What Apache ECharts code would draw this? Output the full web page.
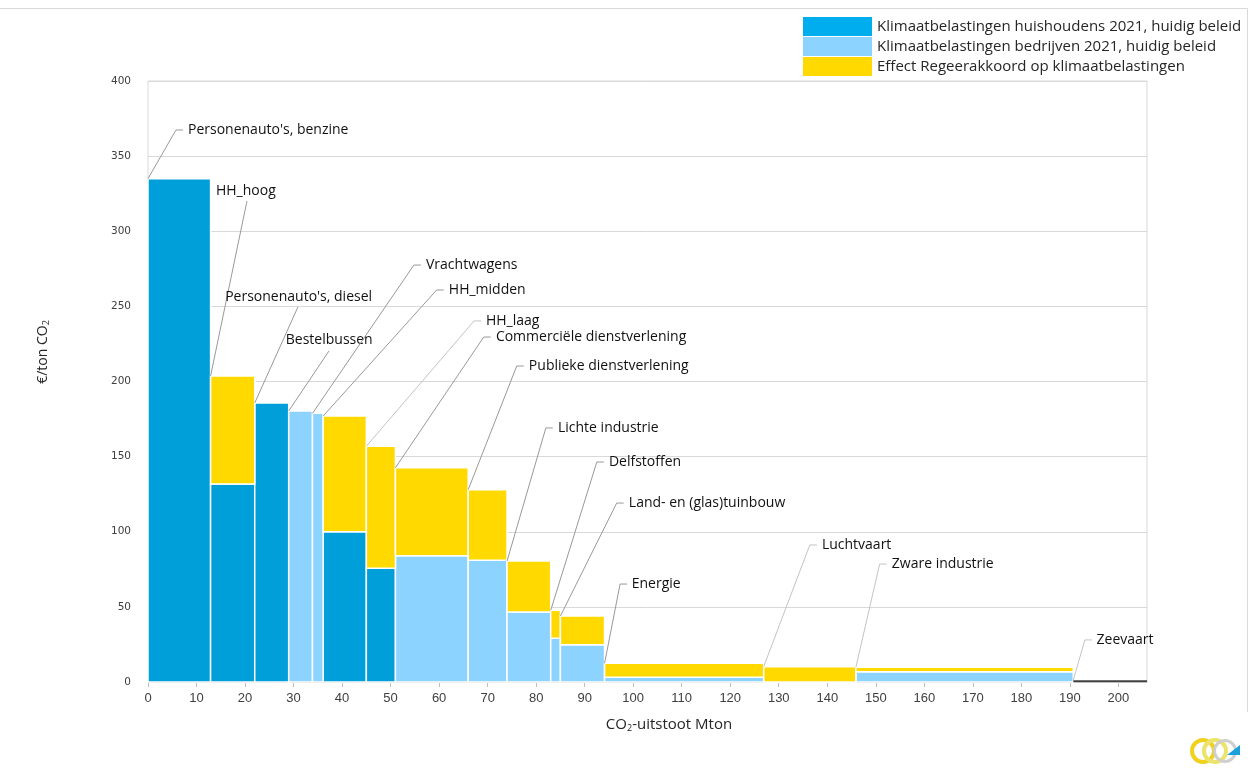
<!DOCTYPE html>
<html>
<head>
<meta charset="utf-8">
<script src="https://cdn.jsdelivr.net/npm/echarts@6/dist/echarts.min.js"></script>
<style>
html,body{margin:0;padding:0;background:#fff;}
#chart{width:1254px;height:781px;}
</style>
</head>
<body>
<div id="chart"></div>
<script>
// ---------- data ----------
const sectors = ["Personenauto's, benzine", "HH_hoog", "Personenauto's, diesel", "Bestelbussen", "Vrachtwagens", "HH_midden", "HH_laag", "Commerciële dienstverlening", "Publieke dienstverlening", "Lichte industrie", "Delfstoffen", "Land- en (glas)tuinbouw", "Energie", "Luchtvaart", "Zware industrie", "Zeevaart"];
const emissions = [12.9, 9.1, 7.0, 4.9, 2.2, 8.9, 6.0, 15.0, 8.0, 9.0, 2.0, 9.1, 32.8, 19.0, 44.8, 15.2]; // Mton
const groups = ['hh', 'hh', 'hh', 'bedr', 'bedr', 'hh', 'hh', 'bedr', 'bedr', 'bedr', 'bedr', 'bedr', 'bedr', 'bedr', 'bedr', 'overig'];
const baseTax = [335, 131.8, 185.7, 180.4, 178.8, 100, 75.7, 84.1, 81.0, 46.6, 29.1, 24.8, 3.1, 0, 6.9, 1.2];
const effectTax = [0, 71.9, 0, 0, 0, 77.0, 81.2, 58.5, 47.0, 33.9, 18.6, 19.1, 9.3, 10.2, 2.9, 0];
const xTicks = [0, 10, 20, 30, 40, 50, 60, 70, 80, 90, 100, 110, 120, 130, 140, 150, 160, 170, 180, 190, 200];
const yTicks = [0, 50, 100, 150, 200, 250, 300, 350, 400];
const seriesNames = ['Klimaatbelastingen huishoudens 2021, huidig beleid', 'Klimaatbelastingen bedrijven 2021, huidig beleid', 'Effect Regeerakkoord op klimaatbelastingen'];

// label annotation layout (data coordinates)
const labelLineEnd = [[5.77,367.4],[20.4,320.1],[30.9,249.6],[37.3,220.3],[54.8,277.5],[59.5,260.9],[67.2,240.3],[69.2,229.6],[76.0,210.3],[82.0,169.1],[92.5,146.4],[96.6,119.1],[97.3,65.2],[136.4,91.2],[150.8,78.5],[193.1,28.0]];
const labelTextPos = [[8.24,367.4],[14.0,327.1],[15.9,256.4],[28.4,227.6],[57.3,277.5],[62.0,260.9],[69.65,240.3],[71.7,229.6],[78.5,210.3],[84.5,169.1],[95.0,146.4],[99.1,119.1],[99.7,65.2],[138.9,91.2],[153.3,78.5],[195.5,28.0]];
const labelHasTick = [1,0,0,0,1,1,1,1,1,1,1,1,1,1,1,1];
const lightLeaders = ['HH_laag', 'Luchtvaart', 'Zware industrie', 'Zeevaart'];

// ---------- build ----------
const X_MAX = emissions.reduce((a, b) => a + b, 0);
const starts = [];
let acc = 0;
emissions.forEach(w => { starts.push(acc); acc += w; });

const COL = { hh: '#009fda', bedr: '#8dd3ff', eff: '#ffd900', overig: '#404040' };

const hhData = [], bedrData = [], effData = [], overData = [];
sectors.forEach((s, i) => {
  const x0 = starts[i], x1 = starts[i] + emissions[i];
  const item = [x0, x1, 0, baseTax[i], s];
  if (groups[i] === 'hh') hhData.push(item);
  else if (groups[i] === 'bedr') bedrData.push(item);
  else overData.push(item);
  if (effectTax[i] > 0) effData.push([x0, x1, baseTax[i], baseTax[i] + effectTax[i], s]);
});

function rectRender(color, strokeW) {
  return function (params, api) {
    const p0 = api.coord([api.value(0), api.value(2)]);
    const p1 = api.coord([api.value(1), api.value(3)]);
    return {
      type: 'rect',
      shape: { x: p0[0], y: p1[1], width: p1[0] - p0[0], height: p0[1] - p1[1] },
      style: { fill: color, stroke: strokeW ? '#ffffff' : null, lineWidth: strokeW }
    };
  };
}

const FONT = '"Open Sans", "Noto Sans", sans-serif';

function labelRender(params, api) {
  const i = params.dataIndex;
  const topVal = baseTax[i] + effectTax[i];
  const anchor = api.coord([starts[i], topVal]);
  const end = api.coord(labelLineEnd[i]);
  const tp = api.coord(labelTextPos[i]);
  const pts = [anchor, end];
  if (labelHasTick[i]) pts.push([end[0] + 7, end[1]]);
  const light = lightLeaders.indexOf(sectors[i]) >= 0;
  return {
    type: 'group',
    children: [
      { type: 'polyline', shape: { points: pts }, style: { stroke: light ? '#c4c4c4' : '#999999', lineWidth: 1, fill: null } },
      { type: 'text', x: tp[0], y: tp[1], style: { text: sectors[i], fill: '#111111', font: '14px ' + FONT, align: 'left', verticalAlign: 'middle' } }
    ]
  };
}

const chart = echarts.init(document.getElementById('chart'), null, { renderer: 'canvas' });

const option = {
  backgroundColor: '#ffffff',
  animation: false,
  grid: { left: 148, right: 107, top: 81, bottom: 99, show: true, borderColor: '#d9d9d9', borderWidth: 1 },
  legend: {
    orient: 'vertical', left: 803, top: 17, padding: 0, itemWidth: 69, itemHeight: 19, itemGap: 1,
    selectedMode: false, icon: 'rect',
    textStyle: { fontFamily: FONT, fontSize: 15, color: '#262626' },
    data: [
      { name: seriesNames[0], itemStyle: { color: '#00aeef' } },
      { name: seriesNames[1], itemStyle: { color: '#8dd3ff' } },
      { name: seriesNames[2], itemStyle: { color: '#ffd900' } }
    ]
  },
  xAxis: {
    type: 'value', min: 0, max: X_MAX, interval: 10,
    axisLine: { show: true, lineStyle: { color: '#bfbfbf' } },
    axisTick: { show: true, length: 5, lineStyle: { color: '#bfbfbf' } },
    splitLine: { show: false },
    axisLabel: {
      margin: 10, color: '#404040', fontSize: 13, fontFamily: '"Liberation Sans Narrow", "Liberation Sans", sans-serif',
      showMaxLabel: false,
      formatter: v => (xTicks.indexOf(Math.round(v)) >= 0 && Math.abs(v - Math.round(v)) < 1e-6) ? String(Math.round(v)) : ''
    }
  },
  yAxis: {
    type: 'value', min: 0, max: 400, interval: 50,
    axisLine: { show: false }, axisTick: { show: false },
    splitLine: { show: true, lineStyle: { color: '#d9d9d9', width: 1 } },
    axisLabel: { margin: 17, color: '#404040', fontSize: 10.5, fontFamily: '"DejaVu Sans", sans-serif',
      formatter: v => yTicks.indexOf(v) >= 0 ? String(v) : '' }
  },
  graphic: [
    { type: 'polyline', shape: { points: [[0, 8.5], [1247.5, 8.5], [1247.5, 712]] }, style: { stroke: '#d9d9d9', lineWidth: 1, fill: null }, silent: true },
    { type: 'text', x: 43, y: 352, rotation: Math.PI / 2,
      style: { text: '€/ton CO{s|2}', font: '14px ' + FONT, fill: '#262626', align: 'center', verticalAlign: 'middle',
        rich: { s: { fontSize: 9, verticalAlign: 'bottom', padding: [6, 0, 0, 0], fontFamily: FONT, fill: '#262626' } } } },
    { type: 'text', x: 669, y: 725,
      style: { text: 'CO{s|2}-uitstoot Mton', font: '15px ' + FONT, fill: '#262626', align: 'center', verticalAlign: 'middle',
        rich: { s: { fontSize: 9, verticalAlign: 'bottom', padding: [7, 0, 0, 0], fontFamily: FONT, fill: '#262626' } } } },
    // small logo
    { type: 'group', left: 1190, top: 738, silent: true, children: [
      { type: 'ring', shape: { cx: 13, cy: 16, r: 13, r0: 9 }, style: { fill: '#f0d21e' } },
      { type: 'ring', shape: { cx: 25, cy: 16, r: 13, r0: 9 }, style: { fill: '#ece36a' } },
      { type: 'ring', shape: { cx: 35, cy: 16, r: 12, r0: 9 }, style: { fill: '#cfcfcf' } },
      { type: 'polygon', shape: { points: [[37, 20], [50, 20], [50, 10]] }, style: { fill: '#1aa0dc' } }
    ] }
  ],
  series: [
    { name: seriesNames[0], type: 'custom', renderItem: rectRender(COL.hh, 1.5), data: hhData, encode: { x: [0, 1], y: [2, 3] }, itemStyle: { color: '#00aeef' }, z: 2 },
    { name: seriesNames[1], type: 'custom', renderItem: rectRender(COL.bedr, 1.5), data: bedrData, encode: { x: [0, 1], y: [2, 3] }, itemStyle: { color: '#8dd3ff' }, z: 2 },
    { name: seriesNames[2], type: 'custom', renderItem: rectRender(COL.eff, 1.5), data: effData, encode: { x: [0, 1], y: [2, 3] }, itemStyle: { color: '#ffd900' }, z: 2 },
    { name: 'Overig', type: 'custom', renderItem: rectRender(COL.overig, 0), data: overData, encode: { x: [0, 1], y: [2, 3] }, z: 2 },
    { name: 'labels', type: 'custom', renderItem: labelRender, data: labelTextPos.map(p => p.slice()), encode: { x: 0, y: 1 }, z: 5, clip: false, silent: true }
  ]
};
chart.setOption(option);
</script>
</body>
</html>
